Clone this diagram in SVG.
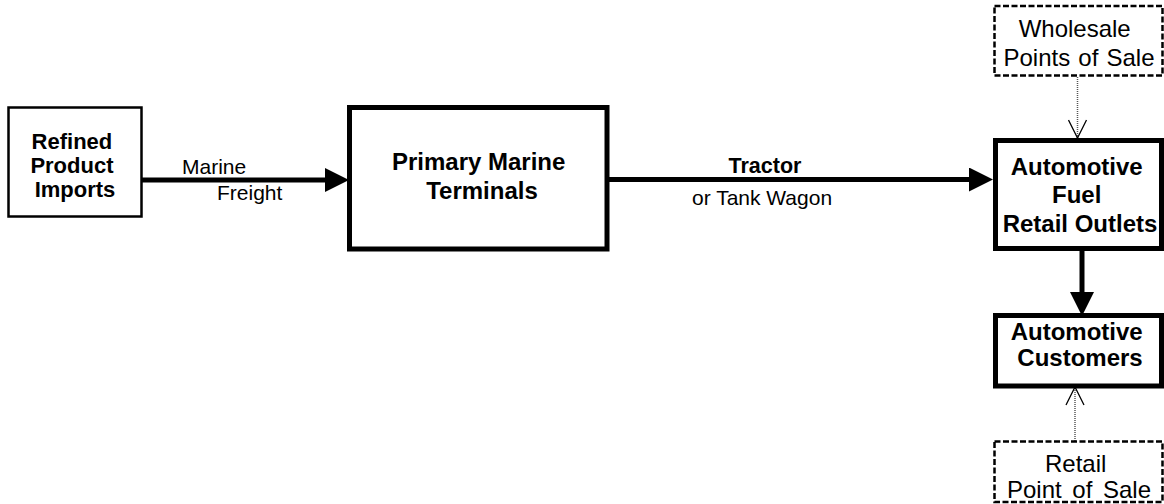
<svg xmlns="http://www.w3.org/2000/svg" width="1164" height="504" viewBox="0 0 1164 504">
  <defs>
    <style>
      .box { fill: #ffffff; stroke: #000000; }
      .thin { stroke-width: 2.5; }
      .thick { stroke-width: 5; }
      .dash { fill: #ffffff; stroke: #000000; stroke-width: 2.5; stroke-dasharray: 6 2.5; }
      .bold { font-family: "Liberation Sans", Arial, sans-serif; font-weight: bold; fill: #000000; }
      .reg { font-family: "Liberation Sans", Arial, sans-serif; fill: #000000; }
      .flow { stroke: #000000; stroke-width: 5; fill: none; }
      .dot { stroke: #555555; stroke-width: 1.5; stroke-dasharray: 1 1; fill: none; }
    </style>
    <!-- solid arrowhead; its base sits on the end of the line -->
    <marker id="head" markerUnits="userSpaceOnUse" viewBox="0 -12 24 24" refX="0" refY="0" markerWidth="24" markerHeight="24" orient="auto">
      <path d="M0,-12 L24,0 L0,12 Z" fill="#000000"/>
    </marker>
    <!-- open V head for the dotted links -->
    <marker id="vee" markerUnits="userSpaceOnUse" viewBox="-1 -10 20 20" refX="18" refY="0" markerWidth="20" markerHeight="20" orient="auto">
      <path d="M0,-9 L18,0 L0,9" fill="none" stroke="#000000" stroke-width="1.3"/>
    </marker>
  </defs>

  <g id="connectors">
    <line class="flow" x1="142" y1="180" x2="325" y2="180" marker-end="url(#head)"/>
    <line class="flow" x1="607" y1="179.5" x2="969" y2="179.5" marker-end="url(#head)"/>
    <line class="flow" x1="1082" y1="250" x2="1082" y2="292" marker-end="url(#head)"/>
    <line class="dot" x1="1077.5" y1="77" x2="1077.5" y2="138" marker-end="url(#vee)"/>
    <line class="dot" x1="1075" y1="441" x2="1075" y2="387" marker-end="url(#vee)"/>
    <text class="reg" x="182" y="174" font-size="21">Marine</text>
    <text class="reg" x="217" y="200" font-size="21">Freight</text>
    <text class="bold" x="765" y="173" font-size="21.5" text-anchor="middle">Tractor</text>
    <text class="reg" x="692" y="205" font-size="21">or Tank Wagon</text>
  </g>

  <g id="refined-product-imports">
    <rect class="box thin" x="8.5" y="107.5" width="133" height="109"/>
    <text class="bold" font-size="22" text-anchor="middle">
      <tspan x="75" y="149">Refined</tspan>
      <tspan x="75" y="173">Product</tspan>
      <tspan x="75" y="197">Imports</tspan>
    </text>
  </g>

  <g id="primary-marine-terminals">
    <rect class="box thick" x="349.5" y="107.5" width="257.5" height="141.5"/>
    <text class="bold" font-size="24" text-anchor="middle">
      <tspan x="482" y="170">Primary Marine</tspan>
      <tspan x="482" y="199">Terminals</tspan>
    </text>
  </g>

  <g id="wholesale-points-of-sale">
    <rect class="dash" x="994.5" y="6" width="168" height="69.5"/>
    <text class="reg" font-size="24" text-anchor="middle">
      <tspan x="1078" y="37">Wholesale</tspan>
      <tspan x="1079" y="66" word-spacing="1.5">Points of Sale</tspan>
    </text>
  </g>

  <g id="automotive-fuel-retail-outlets">
    <rect class="box thick" x="995.5" y="140.5" width="166" height="108"/>
    <text class="bold" font-size="24" text-anchor="middle">
      <tspan x="1080" y="175">Automotive</tspan>
      <tspan x="1080" y="203">Fuel</tspan>
      <tspan x="1080" y="232">Retail Outlets</tspan>
    </text>
  </g>

  <g id="automotive-customers">
    <rect class="box thick" x="995.5" y="315.5" width="166" height="70.5"/>
    <text class="bold" font-size="24" text-anchor="middle">
      <tspan x="1080" y="340">Automotive</tspan>
      <tspan x="1080" y="366">Customers</tspan>
    </text>
  </g>

  <g id="retail-point-of-sale">
    <rect class="dash" x="994.5" y="441.5" width="168" height="60.5"/>
    <text class="reg" font-size="24" text-anchor="middle">
      <tspan x="1079" y="472">Retail</tspan>
      <tspan x="1079" y="498" word-spacing="4">Point of Sale</tspan>
    </text>
  </g>
</svg>
